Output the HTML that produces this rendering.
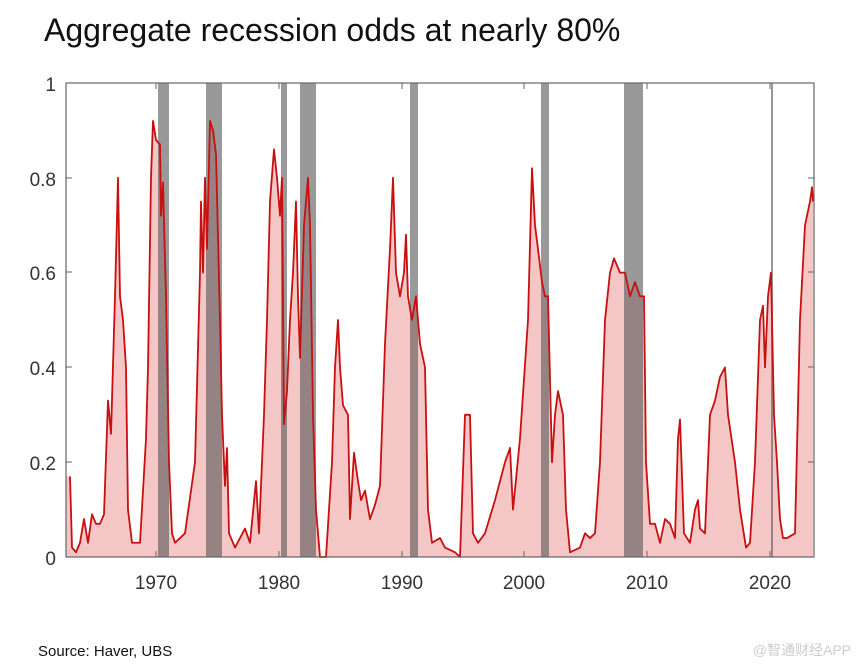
<!DOCTYPE html>
<html><head><meta charset="utf-8"><style>
body{margin:0;background:#fff;width:860px;height:666px;overflow:hidden;font-family:"Liberation Sans",sans-serif}
</style></head><body>
<svg width="860" height="666" xmlns="http://www.w3.org/2000/svg">
<text x="44" y="41" font-size="32" fill="#111" font-family="Liberation Sans, sans-serif">Aggregate recession odds at nearly 80%</text>
<g transform="translate(0,557) scale(1,-474)">
<polygon fill="#f4c6c6" points="66,0 66,0.17 70,0.17 72,0.02 76,0.01 80,0.03 84,0.08 88,0.03 92,0.09 96,0.07 100,0.07 104,0.09 108,0.33 111,0.26 115,0.55 118,0.8 120,0.55 123,0.5 126,0.4 128,0.1 132,0.03 140,0.03 146,0.25 148,0.4 151,0.8 153,0.92 156,0.88 160,0.87 161,0.72 163,0.79 166,0.55 169,0.2 172,0.05 175,0.03 185,0.05 195,0.2 200,0.6 201,0.75 203,0.6 205,0.8 207,0.65 210,0.92 213,0.9 216,0.85 220,0.5 222,0.3 225,0.15 227,0.23 229,0.05 235,0.02 245,0.06 250,0.03 256,0.16 259,0.05 264,0.3 267,0.5 270,0.75 274,0.86 277,0.8 280,0.72 282,0.8 284,0.28 287,0.35 290,0.5 293,0.6 296,0.75 298,0.55 300,0.42 304,0.7 308,0.8 310,0.7 313,0.3 316,0.1 320,0 326,0 332,0.2 335,0.4 338,0.5 340,0.4 343,0.32 348,0.3 350,0.08 354,0.22 358,0.16 361,0.12 365,0.14 370,0.08 375,0.11 380,0.15 385,0.45 390,0.65 393,0.8 396,0.6 400,0.55 404,0.6 406,0.68 408,0.55 412,0.5 416,0.55 420,0.45 425,0.4 428,0.1 432,0.03 440,0.04 445,0.02 455,0.01 460,0 465,0.3 470,0.3 473,0.05 478,0.03 485,0.05 495,0.12 505,0.2 510,0.23 513,0.1 520,0.25 528,0.5 532,0.82 535,0.7 538,0.65 542,0.58 545,0.55 548,0.55 552,0.2 555,0.3 558,0.35 563,0.3 566,0.1 570,0.01 580,0.02 585,0.05 590,0.04 595,0.05 600,0.2 605,0.5 610,0.6 614,0.63 620,0.6 625,0.6 630,0.55 635,0.58 640,0.55 644,0.55 646,0.2 650,0.07 655,0.07 660,0.03 665,0.08 670,0.07 675,0.04 678,0.25 680,0.29 684,0.05 690,0.03 695,0.1 698,0.12 700,0.06 705,0.05 710,0.3 715,0.33 720,0.38 725,0.4 728,0.3 735,0.2 740,0.1 746,0.02 750,0.03 755,0.2 760,0.5 763,0.53 765,0.4 768,0.55 771,0.6 774,0.3 777,0.2 780,0.08 783,0.04 787,0.04 795,0.05 800,0.5 805,0.7 810,0.75 812,0.78 813,0.75 813,0"/>
<g fill="#555" fill-opacity="0.6">
<rect x="158" y="0" width="11" height="1"/>
<rect x="206" y="0" width="16" height="1"/>
<rect x="281" y="0" width="6" height="1"/>
<rect x="300" y="0" width="16" height="1"/>
<rect x="410" y="0" width="8" height="1"/>
<rect x="541" y="0" width="8" height="1"/>
<rect x="624" y="0" width="19" height="1"/>
<rect x="771" y="0" width="2" height="1"/>
</g>
<polyline fill="none" stroke="#c81010" stroke-width="1.8" vector-effect="non-scaling-stroke" stroke-linejoin="round" points="70,0.17 72,0.02 76,0.01 80,0.03 84,0.08 88,0.03 92,0.09 96,0.07 100,0.07 104,0.09 108,0.33 111,0.26 115,0.55 118,0.8 120,0.55 123,0.5 126,0.4 128,0.1 132,0.03 140,0.03 146,0.25 148,0.4 151,0.8 153,0.92 156,0.88 160,0.87 161,0.72 163,0.79 166,0.55 169,0.2 172,0.05 175,0.03 185,0.05 195,0.2 200,0.6 201,0.75 203,0.6 205,0.8 207,0.65 210,0.92 213,0.9 216,0.85 220,0.5 222,0.3 225,0.15 227,0.23 229,0.05 235,0.02 245,0.06 250,0.03 256,0.16 259,0.05 264,0.3 267,0.5 270,0.75 274,0.86 277,0.8 280,0.72 282,0.8 284,0.28 287,0.35 290,0.5 293,0.6 296,0.75 298,0.55 300,0.42 304,0.7 308,0.8 310,0.7 313,0.3 316,0.1 320,0 326,0 332,0.2 335,0.4 338,0.5 340,0.4 343,0.32 348,0.3 350,0.08 354,0.22 358,0.16 361,0.12 365,0.14 370,0.08 375,0.11 380,0.15 385,0.45 390,0.65 393,0.8 396,0.6 400,0.55 404,0.6 406,0.68 408,0.55 412,0.5 416,0.55 420,0.45 425,0.4 428,0.1 432,0.03 440,0.04 445,0.02 455,0.01 460,0 465,0.3 470,0.3 473,0.05 478,0.03 485,0.05 495,0.12 505,0.2 510,0.23 513,0.1 520,0.25 528,0.5 532,0.82 535,0.7 538,0.65 542,0.58 545,0.55 548,0.55 552,0.2 555,0.3 558,0.35 563,0.3 566,0.1 570,0.01 580,0.02 585,0.05 590,0.04 595,0.05 600,0.2 605,0.5 610,0.6 614,0.63 620,0.6 625,0.6 630,0.55 635,0.58 640,0.55 644,0.55 646,0.2 650,0.07 655,0.07 660,0.03 665,0.08 670,0.07 675,0.04 678,0.25 680,0.29 684,0.05 690,0.03 695,0.1 698,0.12 700,0.06 705,0.05 710,0.3 715,0.33 720,0.38 725,0.4 728,0.3 735,0.2 740,0.1 746,0.02 750,0.03 755,0.2 760,0.5 763,0.53 765,0.4 768,0.55 771,0.6 774,0.3 777,0.2 780,0.08 783,0.04 787,0.04 795,0.05 800,0.5 805,0.7 810,0.75 812,0.78 813,0.75"/>
</g>
<rect x="66" y="83" width="748" height="474" fill="none" stroke="#666" stroke-width="1.2"/>
<g stroke="#666" stroke-width="1">
<line x1="66" y1="178" x2="72" y2="178"/><line x1="66" y1="272" x2="72" y2="272"/><line x1="66" y1="367" x2="72" y2="367"/><line x1="66" y1="462" x2="72" y2="462"/>
<line x1="808" y1="178" x2="814" y2="178"/><line x1="808" y1="272" x2="814" y2="272"/><line x1="808" y1="367" x2="814" y2="367"/><line x1="808" y1="462" x2="814" y2="462"/>
<line x1="156" y1="557" x2="156" y2="551"/><line x1="279" y1="557" x2="279" y2="551"/><line x1="402" y1="557" x2="402" y2="551"/><line x1="524" y1="557" x2="524" y2="551"/><line x1="647" y1="557" x2="647" y2="551"/><line x1="770" y1="557" x2="770" y2="551"/>
<line x1="156" y1="83" x2="156" y2="89"/><line x1="279" y1="83" x2="279" y2="89"/><line x1="402" y1="83" x2="402" y2="89"/><line x1="524" y1="83" x2="524" y2="89"/><line x1="647" y1="83" x2="647" y2="89"/><line x1="770" y1="83" x2="770" y2="89"/>
</g>
<g font-size="19" fill="#333" text-anchor="end">
<text x="56" y="91">1</text><text x="56" y="186">0.8</text><text x="56" y="280">0.6</text><text x="56" y="375">0.4</text><text x="56" y="470">0.2</text><text x="56" y="565">0</text>
</g>
<g font-size="19" fill="#333" text-anchor="middle">
<text x="156" y="589">1970</text><text x="279" y="589">1980</text><text x="402" y="589">1990</text><text x="524" y="589">2000</text><text x="647" y="589">2010</text><text x="770" y="589">2020</text>
</g>
<text x="38" y="656" font-size="15" fill="#111">Source: Haver, UBS</text>
<text x="851" y="655" font-size="14" fill="#ccc" text-anchor="end" font-family="Liberation Sans, Noto Sans CJK SC, sans-serif">@智通财经APP</text>
</svg>
</body></html>
